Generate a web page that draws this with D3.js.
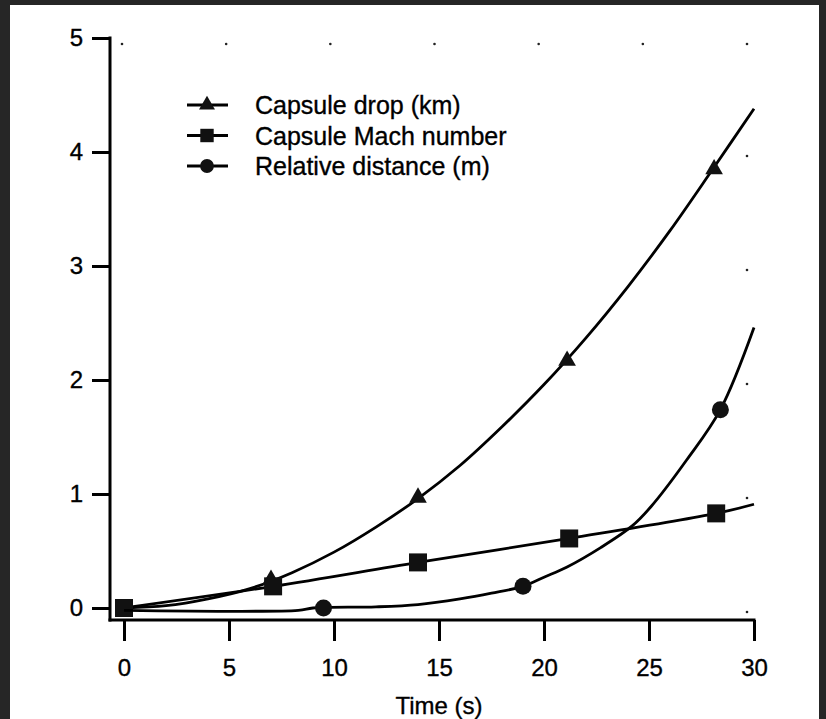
<!DOCTYPE html>
<html><head><meta charset="utf-8">
<script src="https://cdn.jsdelivr.net/npm/d3@7"></script>
<style>
body{margin:0;background:#fff}
svg{display:block}
text{font-family:"Liberation Sans",Arial,Helvetica,sans-serif;fill:#000;stroke:#000;stroke-width:0.35px}
</style>
</head><body>
<svg id="chart" width="826" height="719"></svg>
<script>
// ---- data ----
const xTicks = [0, 5, 10, 15, 20, 25, 30];
const yTicks = [0, 1, 2, 3, 4, 5];
const xLabel = "Time (s)";
const seriesNames = ["Capsule drop (km)", "Capsule Mach number", "Relative distance (m)"];

const dropTime  = [0, 2, 4, 6, 8, 10, 12, 14, 16, 18, 20, 22, 24, 26, 28, 30];
const dropValue = [0, 0.02, 0.08, 0.17, 0.31, 0.49, 0.71, 0.96, 1.25, 1.59, 1.96, 2.37, 2.82, 3.31, 3.84, 4.38];
const dropMarkerTime  = [7, 14, 21.1, 28.1];
const dropMarkerValue = [0.24, 0.96, 2.16, 3.84];

const machTime  = [0, 7.1, 14, 21.2, 28.2, 30];
const machValue = [0, 0.19, 0.40, 0.61, 0.83, 0.91];
const machMarkerTime  = [0, 7.1, 14, 21.2, 28.2];
const machMarkerValue = [0, 0.19, 0.40, 0.61, 0.83];

const distTime  = [0, 8.3, 9, 12, 14, 16, 17.5, 19, 20, 21.1, 22.7, 24.2, 25.1, 26.8, 28.4, 30];
const distValue = [-0.02, -0.02, 0, 0.01, 0.03, 0.08, 0.13, 0.19, 0.27, 0.36, 0.53, 0.72, 0.89, 1.30, 1.74, 2.46];
const distMarkerTime  = [9.5, 19, 28.4];
const distMarkerValue = [0, 0.19, 1.74];

// ---- layout ----
const svg = d3.select("#chart");
const x = d3.scaleLinear().domain([0, 30]).range([124, 754]);
const y = d3.scaleLinear().domain([0, 5]).range([608, 38]);
const axisX0 = 110, axisY0 = 620;
const FS = 24;

svg.append("rect").attr("width", 826).attr("height", 719).attr("fill", "#fff");

// scanned frame
svg.append("rect").attr("x", 0).attr("y", 0).attr("width", 10).attr("height", 719).attr("fill", "#262626");
svg.append("rect").attr("x", 0).attr("y", 0).attr("width", 826).attr("height", 5).attr("fill", "#262626");
svg.append("rect").attr("x", 819).attr("y", 0).attr("width", 7).attr("height", 719).attr("fill", "#262626");

// faint dotted frame (top and right)
const dots = svg.append("g").attr("fill", "#222");
xTicks.forEach(t => dots.append("circle").attr("cx", x(t) - 2 - t / 6).attr("cy", y(5) + 6).attr("r", 1.3));
yTicks.filter(v => v < 5).forEach(v => dots.append("circle").attr("cx", x(30) - 7).attr("cy", y(v) + 4).attr("r", 1.3));

// axes
const gy = svg.append("g").attr("transform", `translate(${axisX0},0)`)
  .call(d3.axisLeft(y).tickValues(yTicks).tickFormat(d3.format("d")).tickSize(18).tickSizeOuter(0).tickPadding(9));
gy.select(".domain").remove();
gy.selectAll(".tick line").attr("stroke", "#000").attr("stroke-width", 3);
gy.selectAll(".tick text").attr("font-size", FS).style("font-family", '"Liberation Sans",Arial,sans-serif');

const gx = svg.append("g").attr("transform", `translate(0,${axisY0})`)
  .call(d3.axisBottom(x).tickValues(xTicks).tickFormat(d3.format("d")).tickSize(21).tickSizeOuter(0).tickPadding(18));
gx.select(".domain").remove();
gx.selectAll(".tick line").attr("stroke", "#000").attr("stroke-width", 3);
gx.selectAll(".tick text").attr("font-size", FS).style("font-family", '"Liberation Sans",Arial,sans-serif');

svg.append("line").attr("x1", axisX0).attr("x2", axisX0).attr("y1", y(5) - 1.5).attr("y2", axisY0 + 1.5)
  .attr("stroke", "#000").attr("stroke-width", 3);
svg.append("line").attr("x1", axisX0 - 1.5).attr("x2", x(30) + 1.5).attr("y1", axisY0).attr("y2", axisY0)
  .attr("stroke", "#000").attr("stroke-width", 3);

svg.append("text").attr("x", x(15)).attr("y", 714).attr("text-anchor", "middle")
  .attr("font-size", FS).text(xLabel);

// series
const line = d3.line().x(d => x(d[0])).y(d => y(d[1])).curve(d3.curveCatmullRom.alpha(0.5));
const zip = (a, b) => a.map((v, i) => [v, b[i]]);

const series = [
  { pts: zip(dropTime, dropValue), marks: zip(dropMarkerTime, dropMarkerValue), sym: d3.symbolTriangle, size: 135, lsize: 110, dy: 1 },
  { pts: zip(machTime, machValue), marks: zip(machMarkerTime, machMarkerValue), sym: d3.symbolSquare, size: 324, lsize: 180, dy: 0 },
  { pts: zip(distTime, distValue), marks: zip(distMarkerTime, distMarkerValue), sym: d3.symbolCircle, size: 227, lsize: 150, dy: 0 }
];

series.forEach(s => {
  svg.append("path").datum(s.pts).attr("d", line)
    .attr("fill", "none").attr("stroke", "#000").attr("stroke-width", 2.8).attr("stroke-linejoin", "round");
  svg.selectAll(null).data(s.marks).enter().append("path")
    .attr("d", d3.symbol(s.sym, s.size))
    .attr("transform", d => `translate(${x(d[0])},${y(d[1]) - s.dy})`)
    .attr("fill", "#111");
});

// legend
const legY = [105, 135.5, 166];
series.forEach((s, i) => {
  const g = svg.append("g").attr("transform", `translate(0,${legY[i]})`);
  g.append("line").attr("x1", 187).attr("x2", 228).attr("stroke", "#000").attr("stroke-width", 3);
  g.append("path").attr("d", d3.symbol(s.sym, s.lsize)).attr("transform", "translate(207,0)").attr("fill", "#111");
  g.append("text").attr("x", 255).attr("y", 0).attr("dy", "0.36em").attr("font-size", 25).text(seriesNames[i]);
});
</script>
</body></html>
